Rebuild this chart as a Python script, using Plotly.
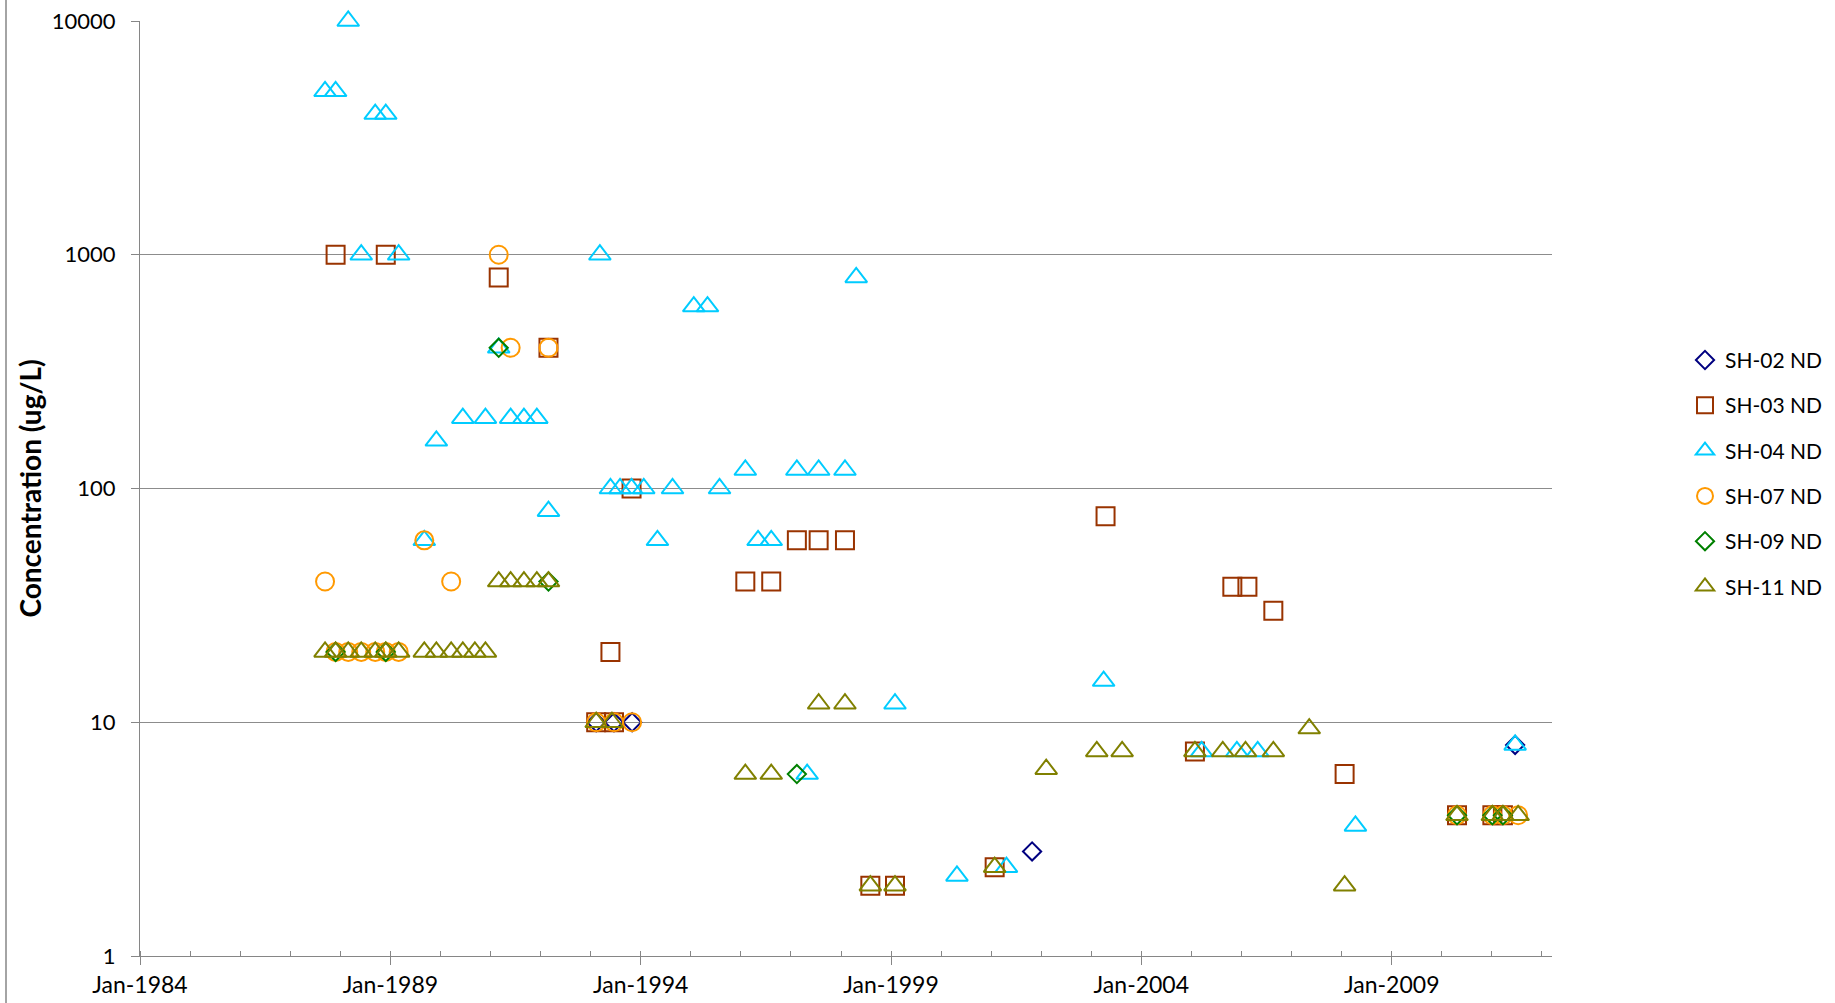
import plotly.graph_objects as go

# ---- data (dates of non-detect samples and reported detection limits, ug/L) ----
sh02_dates = ["1993-02-10", "1993-06-20", "1993-10-30", "2001-10-26", "2011-06-20"]
sh02_vals = [10, 10, 10, 2.8, 8]

sh03_dates = ["1987-11-28", "1988-11-28", "1991-03-02", "1992-02-28", "1993-02-10",
              "1993-05-25", "1993-06-20", "1993-10-26", "1996-02-03", "1996-08-10",
              "1997-02-13", "1997-07-22", "1998-01-30", "1998-08-03", "1999-01-30",
              "2001-01-26", "2003-04-15", "2005-01-26", "2005-10-26", "2006-02-13",
              "2006-08-21", "2008-01-23", "2010-04-22", "2011-01-05", "2011-03-23"]
sh03_vals = [1000, 1000, 800, 400, 10,
             20, 10, 100, 40, 40,
             60, 60, 60, 2, 2,
             2.4, 76, 7.5, 38, 38,
             30, 6, 4, 4, 4]

sh04_dates = ["1987-09-12", "1987-11-28", "1988-02-28", "1988-06-02", "1988-09-12",
              "1988-11-28", "1989-03-02", "1989-09-05", "1989-12-02", "1990-06-13",
              "1990-11-25", "1991-03-02", "1991-05-28", "1991-09-02", "1991-12-05",
              "1992-02-28", "1993-03-09", "1993-05-25", "1993-08-03", "1993-10-26",
              "1994-01-23", "1994-05-03", "1994-08-21", "1995-01-23", "1995-05-03",
              "1995-07-30", "1996-02-03", "1996-05-06", "1996-08-10", "1997-02-13",
              "1997-04-29", "1997-07-22", "1998-01-30", "1998-04-22", "1999-01-30",
              "2000-04-26", "2001-04-22", "2003-04-01", "2005-03-16", "2005-11-28",
              "2006-04-29", "2008-04-11", "2011-06-20"]
sh04_vals = [5000, 5000, 10000, 1000, 4000,
             4000, 1000, 60, 160, 200,
             200, 400, 200, 200, 200,
             80, 1000, 100, 100, 100,
             100, 60, 100, 600, 600,
             100, 120, 60, 60, 120,
             6, 120, 120, 800, 12,
             2.2, 2.4, 15, 7.5, 7.5,
             7.5, 3.6, 8]

sh07_dates = ["1987-09-12", "1987-11-28", "1988-02-28", "1988-06-02", "1988-09-12",
              "1988-11-28", "1989-03-02", "1989-09-05", "1990-03-20", "1991-03-02",
              "1991-05-28", "1992-02-28", "1993-02-10", "1993-06-20", "1993-10-30",
              "2010-04-22", "2011-01-05", "2011-03-23", "2011-07-12"]
sh07_vals = [40, 20, 20, 20, 20,
             20, 20, 60, 40, 1000,
             400, 400, 10, 10, 10,
             4, 4, 4, 4]

sh09_dates = ["1987-11-28", "1988-11-28", "1991-03-02", "1992-02-28", "1997-02-13",
              "2010-04-22", "2011-01-05", "2011-03-23"]
sh09_vals = [20, 20, 400, 40, 6, 4, 4, 4]

sh11_dates = ["1987-09-12", "1987-11-28", "1988-02-28", "1988-06-02", "1988-09-12",
              "1988-11-28", "1989-03-02", "1989-09-05", "1989-12-02", "1990-03-20",
              "1990-06-13", "1990-09-09", "1990-11-25", "1991-03-02", "1991-05-28",
              "1991-09-02", "1991-12-05", "1992-02-28", "1993-02-10", "1993-06-05",
              "1996-02-03", "1996-08-10", "1997-07-22", "1998-01-30", "1998-08-03",
              "1999-01-30", "2001-01-26", "2002-02-06", "2003-02-10", "2003-08-14",
              "2005-01-26", "2005-08-17", "2006-01-30", "2006-08-21", "2007-05-10",
              "2008-01-23", "2010-04-22", "2011-01-05", "2011-03-23", "2011-07-12"]
sh11_vals = [20, 20, 20, 20, 20,
             20, 20, 20, 20, 20,
             20, 20, 20, 40, 40,
             40, 40, 40, 10, 10,
             6, 6, 12, 12, 2,
             2, 2.4, 6.3, 7.5, 7.5,
             7.5, 7.5, 7.5, 7.5, 9.4,
             2, 4, 4, 4, 4]

series_names = ["SH-02 ND", "SH-03 ND", "SH-04 ND", "SH-07 ND", "SH-09 ND", "SH-11 ND"]
y_tick_vals = [1, 10, 100, 1000, 10000]
y_tick_text = ["1", "10", "100", "1000", "10000"]

# ---- styling ----
FONT = "Lato"
styles = [
    ("diamond-open", "#000080", 14),
    ("square-open", "#993300", 18),
    ("triangle-up-open", "#00CCFF", 19),
    ("circle-open", "#FF9900", 18),
    ("diamond-open", "#008000", 14),
    ("triangle-up-open", "#808000", 19),
]
data = [(sh02_dates, sh02_vals), (sh03_dates, sh03_vals), (sh04_dates, sh04_vals),
        (sh07_dates, sh07_vals), (sh09_dates, sh09_vals), (sh11_dates, sh11_vals)]

fig = go.Figure()
for i, (name, (d, v), (sym, col, sz)) in enumerate(zip(series_names, data, styles)):
    fig.add_trace(go.Scatter(
        x=d, y=v, mode="markers", name=name, legendgroup=name, cliponaxis=False,
        marker=dict(symbol=sym, size=sz, color=col, line=dict(color=col, width=2)),
    ))

W, H = 1835, 1003
L, R, T, B = 140, 1552, 21, 956
pw = R - L
ph = B - T
fig.update_layout(
    width=W, height=H,
    margin=dict(l=L, r=W - R, t=T, b=H - B, autoexpand=False),
    paper_bgcolor="white", plot_bgcolor="white",
    font=dict(family=FONT, size=23, color="black"),
    showlegend=True,
    legend=dict(x=(1685 - L) / pw, y=0.659, xanchor="left", yanchor="top",
                font=dict(family=FONT, size=21, color="black"),
                tracegroupgap=15, itemwidth=30, bgcolor="rgba(0,0,0,0)"),
    xaxis=dict(
        type="date", range=["1984-01-01", "2012-03-15"],
        tick0="1984-01-01", dtick="M60", tickformat="%b-%Y",
        ticks="outside", ticklen=8, tickcolor="#868686", tickwidth=1.3,
        showline=True, linecolor="#868686", linewidth=1.3,
        showgrid=False, zeroline=False,
        minor=dict(dtick="M12", ticks="inside", ticklen=5, tickcolor="#868686",
                   tickwidth=1.3, showgrid=False),
        tickfont=dict(family=FONT, size=23),
    ),
    yaxis=dict(
        type="log", range=[0, 4],
        tickvals=y_tick_vals, ticktext=y_tick_text,
        ticks="outside", ticklen=8, tickcolor="#868686", tickwidth=1.3,
        ticklabelstandoff=11,
        showline=True, linecolor="#868686", linewidth=1.3,
        showgrid=True, gridcolor="#8C8C8C", gridwidth=1.3, zeroline=False,
        tickfont=dict(family=FONT, size=22),
    ),
)

fig.add_annotation(
    text="<b>Concentration (ug/L)</b>", textangle=-90,
    xref="paper", yref="paper", x=(29 - L) / pw, y=0.5,
    xanchor="center", yanchor="middle", showarrow=False,
    font=dict(family=FONT, size=28, color="black"),
)
# chart-area border on the left
fig.add_shape(type="line", xref="paper", yref="paper",
              x0=(6 - L) / pw, x1=(6 - L) / pw,
              y0=(B - H) / ph, y1=B / ph,
              line=dict(color="#868686", width=1.5))

fig.write_html("out.html", config={"displayModeBar": False},
               post_script="document.body.style.margin='0';")
